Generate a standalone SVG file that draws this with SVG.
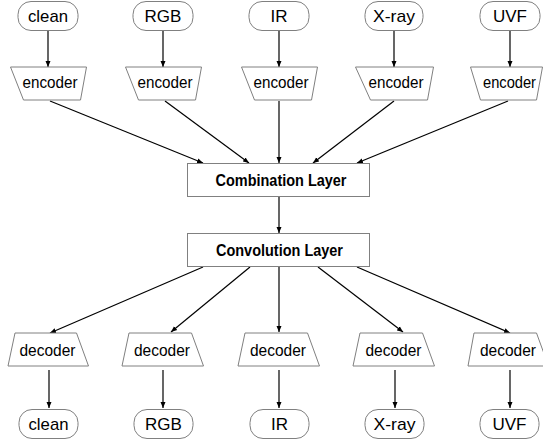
<svg xmlns="http://www.w3.org/2000/svg" width="543" height="441" viewBox="0 0 543 441">
<style>
.pill{fill:#fff;stroke:#808080;stroke-width:1}
.shape{fill:#fff;stroke:#808080;stroke-width:1}
.t{font-family:"Liberation Sans",Arial,sans-serif;font-size:17px;fill:#000;text-anchor:middle}
.e{font-family:"Liberation Sans",Arial,sans-serif;font-size:17px;fill:#000;text-anchor:middle}
.b{font-family:"Liberation Sans",Arial,sans-serif;font-size:16px;font-weight:bold;fill:#000;text-anchor:middle}
.c{stroke:#000;stroke-width:1.2;fill:none;marker-end:url(#ah)}
</style>
<defs>
<marker id="ah" markerUnits="userSpaceOnUse" markerWidth="6" markerHeight="6" refX="6" refY="3" orient="auto">
<path d="M0,0.5 L6,3 L0,5.5 z" fill="#000"/>
</marker>
</defs>
<rect width="543" height="441" fill="#fff"/>
<g id="connectors">
<line class="c" x1="48" y1="31" x2="48" y2="67"/>
<line class="c" x1="163" y1="31" x2="163" y2="67"/>
<line class="c" x1="279" y1="31" x2="279" y2="67"/>
<line class="c" x1="394" y1="31" x2="394" y2="67"/>
<line class="c" x1="510" y1="31" x2="510" y2="67"/>
<line class="c" x1="50" y1="101" x2="203" y2="163"/>
<line class="c" x1="165" y1="101" x2="249" y2="163"/>
<line class="c" x1="279" y1="101" x2="279" y2="163"/>
<line class="c" x1="394" y1="101" x2="313" y2="163"/>
<line class="c" x1="508" y1="101" x2="357" y2="163"/>
<line class="c" x1="279" y1="197" x2="279" y2="233"/>
<line class="c" x1="203" y1="267" x2="50" y2="333"/>
<line class="c" x1="250" y1="267" x2="171" y2="332"/>
<line class="c" x1="279" y1="267" x2="279" y2="332"/>
<line class="c" x1="318" y1="267" x2="403" y2="332"/>
<line class="c" x1="357" y1="267" x2="510" y2="333"/>
<line class="c" x1="49" y1="370" x2="49" y2="408"/>
<line class="c" x1="163" y1="370" x2="163" y2="408"/>
<line class="c" x1="279" y1="370" x2="279" y2="408"/>
<line class="c" x1="395" y1="370" x2="395" y2="408"/>
<line class="c" x1="510" y1="370" x2="510" y2="408"/>
</g>
<g id="in-clean"><rect class="pill" x="18" y="1.5" width="60" height="29" rx="13"/><text class="t" x="48" y="22" textLength="40" lengthAdjust="spacingAndGlyphs">clean</text></g>
<g id="in-rgb"><rect class="pill" x="133" y="1.5" width="60" height="29" rx="13"/><text class="t" x="163" y="22">RGB</text></g>
<g id="in-ir"><rect class="pill" x="249" y="1.5" width="60" height="29" rx="13"/><text class="t" x="279" y="22">IR</text></g>
<g id="in-xray"><rect class="pill" x="365" y="1.5" width="58" height="29" rx="13"/><text class="t" x="394" y="22" textLength="42" lengthAdjust="spacingAndGlyphs">X-ray</text></g>
<g id="in-uvf"><rect class="pill" x="480" y="1.5" width="60" height="29" rx="13"/><text class="t" x="510" y="22">UVF</text></g>
<g id="enc-clean"><polygon class="shape" points="10.5,67 86.5,67 80.5,100 23.5,100"/><text class="e" x="50" y="88" textLength="55" lengthAdjust="spacingAndGlyphs">encoder</text></g>
<g id="enc-rgb"><polygon class="shape" points="125.5,67 201.5,67 195.5,100 138.5,100"/><text class="e" x="165" y="88" textLength="55" lengthAdjust="spacingAndGlyphs">encoder</text></g>
<g id="enc-ir"><polygon class="shape" points="241.5,67 317.5,67 311.5,100 254.5,100"/><text class="e" x="281" y="88" textLength="55" lengthAdjust="spacingAndGlyphs">encoder</text></g>
<g id="enc-xray"><polygon class="shape" points="355.5,67 433.5,67 427.5,100 370.5,100"/><text class="e" x="396" y="88" textLength="55" lengthAdjust="spacingAndGlyphs">encoder</text></g>
<g id="enc-uvf"><polygon class="shape" points="470.5,67 542.5,67 536.5,100 480.5,100"/><text class="e" x="509.5" y="88" textLength="53" lengthAdjust="spacingAndGlyphs">encoder</text></g>
<g id="combination"><rect class="shape" x="187.5" y="163.5" width="182" height="33"/><text class="b" x="281" y="186" textLength="131" lengthAdjust="spacingAndGlyphs">Combination Layer</text></g>
<g id="convolution"><rect class="shape" x="187.5" y="233.5" width="182" height="33"/><text class="b" x="279.5" y="256" textLength="127" lengthAdjust="spacingAndGlyphs">Convolution Layer</text></g>
<g id="dec-clean"><polygon class="shape" points="15,333 76.5,333 88.5,366 8,366"/><text class="e" x="47.5" y="356" textLength="56" lengthAdjust="spacingAndGlyphs">decoder</text></g>
<g id="dec-rgb"><polygon class="shape" points="129,333 191.5,333 203.5,366 122,366"/><text class="e" x="162" y="356" textLength="56" lengthAdjust="spacingAndGlyphs">decoder</text></g>
<g id="dec-ir"><polygon class="shape" points="245,333 307.5,333 319.5,366 238,366"/><text class="e" x="278" y="356" textLength="56" lengthAdjust="spacingAndGlyphs">decoder</text></g>
<g id="dec-xray"><polygon class="shape" points="360,333 422.5,333 434.5,366 353,366"/><text class="e" x="393.5" y="356" textLength="56" lengthAdjust="spacingAndGlyphs">decoder</text></g>
<g id="dec-uvf"><polygon class="shape" points="474,333 536.5,333 548.5,366 468,366"/><text class="e" x="508" y="356" textLength="56" lengthAdjust="spacingAndGlyphs">decoder</text></g>
<g id="out-clean"><rect class="pill" x="19" y="409.5" width="59" height="29" rx="13"/><text class="t" x="48.5" y="430" textLength="40" lengthAdjust="spacingAndGlyphs">clean</text></g>
<g id="out-rgb"><rect class="pill" x="134" y="409.5" width="59" height="29" rx="13"/><text class="t" x="163.5" y="430">RGB</text></g>
<g id="out-ir"><rect class="pill" x="250" y="409.5" width="59" height="29" rx="13"/><text class="t" x="279.5" y="430">IR</text></g>
<g id="out-xray"><rect class="pill" x="365" y="409.5" width="59" height="29" rx="13"/><text class="t" x="394.5" y="430" textLength="42" lengthAdjust="spacingAndGlyphs">X-ray</text></g>
<g id="out-uvf"><rect class="pill" x="480" y="409.5" width="59" height="29" rx="13"/><text class="t" x="509.5" y="430">UVF</text></g>
</svg>
